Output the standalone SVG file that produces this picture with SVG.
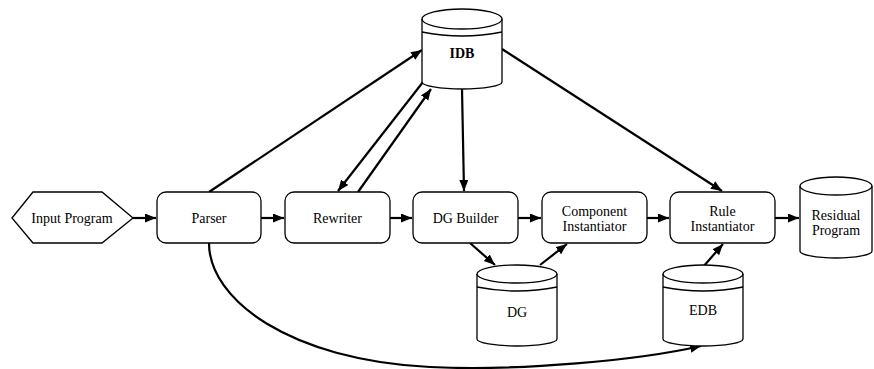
<svg xmlns="http://www.w3.org/2000/svg" width="874" height="369" viewBox="0 0 874 369">
<style>
.box{fill:#fff;stroke:#000;stroke-width:1.3}
.line{fill:none;stroke:#000;stroke-width:1.3}
.edge{fill:none;stroke:#000;stroke-width:2.2}
text{font-family:"Times New Roman","Liberation Serif",Tinos,serif;font-size:14px;fill:#000;text-anchor:middle}
.b{font-weight:bold}
</style>
<defs>
<marker id="arr" markerUnits="userSpaceOnUse" markerWidth="12" markerHeight="10" refX="11" refY="4.5" orient="auto">
<path d="M0,0 L11,4.5 L0,9 z" fill="#000"/>
</marker>
</defs>
<g id="connectors">
<path class="edge" d="M133,218 L156,218" marker-end="url(#arr)"/>
<path class="edge" d="M261,218 L284,218" marker-end="url(#arr)"/>
<path class="edge" d="M390,218 L412,218" marker-end="url(#arr)"/>
<path class="edge" d="M518,218 L541,218" marker-end="url(#arr)"/>
<path class="edge" d="M647,218 L669,218" marker-end="url(#arr)"/>
<path class="edge" d="M775,218 L799,218" marker-end="url(#arr)"/>
<path class="edge" d="M209,192 L422,50" marker-end="url(#arr)"/>
<path class="edge" d="M423,82 L338,191" marker-end="url(#arr)"/>
<path class="edge" d="M358,192 L431,89" marker-end="url(#arr)"/>
<path class="edge" d="M462,89 L464,191" marker-end="url(#arr)"/>
<path class="edge" d="M502,49 L722,191" marker-end="url(#arr)"/>
<path class="edge" d="M470,243 L495,265" marker-end="url(#arr)"/>
<path class="edge" d="M540,265 L567,244" marker-end="url(#arr)"/>
<path class="edge" d="M703,267 L723,244" marker-end="url(#arr)"/>
<path class="edge" d="M209,243 C209,300 290,360 430,367 C520,371.5 640,360 701,346" marker-end="url(#arr)"/>
</g>
<g id="input-program">
<polygon class="box" points="12,218 33,192 102,192 133,218 102,243 33,243"/>
<text x="72" y="223">Input Program</text>
</g>
<g id="parser">
<rect class="box" x="157" y="192" width="104" height="51" rx="9"/>
<text x="209" y="223">Parser</text>
</g>
<g id="rewriter">
<rect class="box" x="285" y="192" width="105" height="51" rx="9"/>
<text x="337.5" y="223">Rewriter</text>
</g>
<g id="dg-builder">
<rect class="box" x="413" y="192" width="105" height="51" rx="9"/>
<text x="465.5" y="223">DG Builder</text>
</g>
<g id="component-instantiator">
<rect class="box" x="542" y="192" width="105" height="51" rx="9"/>
<text x="594.5" y="216">Component</text>
<text x="594.5" y="231">Instantiator</text>
</g>
<g id="rule-instantiator">
<rect class="box" x="670" y="192" width="105" height="51" rx="9"/>
<text x="722.5" y="216">Rule</text>
<text x="722.5" y="231">Instantiator</text>
</g>
<g id="idb">
<path class="box" d="M422,19 A40,10 0 0 1 502,19 L502,82 A40,7 0 0 1 422,82 Z"/>
<path class="line" d="M422,19 A40,10 0 0 0 502,19 M422,32 Q462,40 502,32"/>
<text class="b" x="462" y="58">IDB</text>
</g>
<g id="dg">
<path class="box" d="M477,274 A40,9 0 0 1 557,274 L557,339 A40,7 0 0 1 477,339 Z"/>
<path class="line" d="M477,274 A40,9 0 0 0 557,274 M477,287 Q517,295 557,287"/>
<text x="517" y="317">DG</text>
</g>
<g id="edb">
<path class="box" d="M663,274 A40,9 0 0 1 743,274 L743,339 A40,7 0 0 1 663,339 Z"/>
<path class="line" d="M663,274 A40,9 0 0 0 743,274 M663,287 Q703,295 743,287"/>
<text x="703" y="315">EDB</text>
</g>
<g id="residual-program">
<path class="box" d="M800,186 A36,9 0 0 1 872,186 L872,251 A36,7 0 0 1 800,251 Z"/>
<path class="line" d="M800,186 A36,9 0 0 0 872,186"/>
<text x="836" y="220">Residual</text>
<text x="836" y="235">Program</text>
</g>
</svg>
